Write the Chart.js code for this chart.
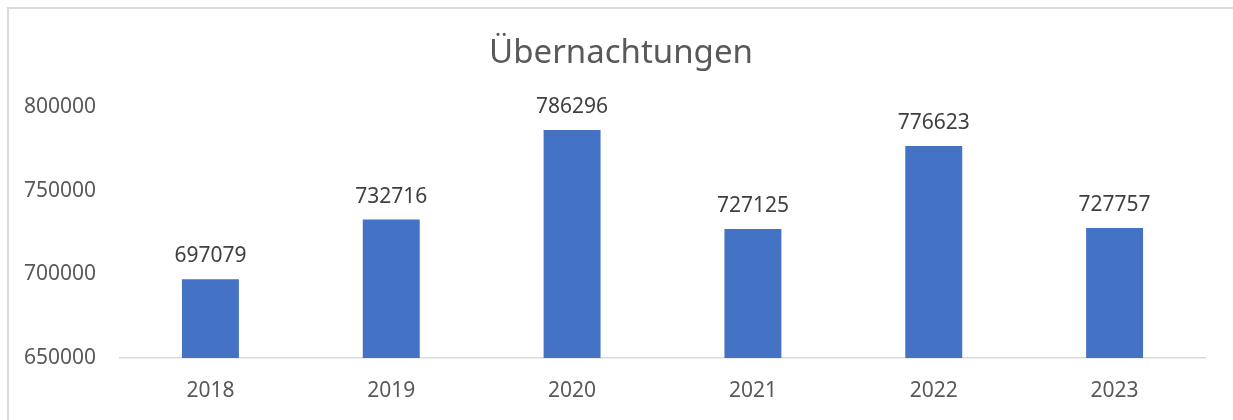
<!DOCTYPE html>
<html>
<head>
<meta charset="utf-8">
<script src="https://cdn.jsdelivr.net/npm/chart.js@4/dist/chart.umd.min.js"></script>
<style>
  html, body { margin: 0; padding: 0; background: #fff; width: 1233px; height: 420px; overflow: hidden; }
  #frame { position: absolute; left: 7px; top: 7px; width: 1300px; height: 500px; border-left: 2px solid #d9d9d9; border-top: 2px solid #d9d9d9; }
  #c { position: absolute; left: 0; top: 0; }
</style>
</head>
<body>
<div id="frame"></div>
<canvas id="c" width="1233" height="420"></canvas>
<script>
const categories = ["2018", "2019", "2020", "2021", "2022", "2023"];
const values = [697079, 732716, 786296, 727125, 776623, 727757];
const titleText = "Übernachtungen";
const yMin = 650000, yMax = 800000, yStep = 50000;

const FONT = "'Noto Sans', 'Liberation Sans', sans-serif";

const valueLabels = {
  id: 'valueLabels',
  afterDatasetsDraw(chart) {
    const ctx = chart.ctx;
    const meta = chart.getDatasetMeta(0);
    ctx.save();
    ctx.font = "21px " + FONT;
    ctx.fillStyle = "#404040";
    ctx.textAlign = "center";
    ctx.textBaseline = "alphabetic";
    meta.data.forEach((el, i) => {
      ctx.fillText(String(chart.data.datasets[0].data[i]), el.x, el.y - 17);
    });
    ctx.restore();
  }
};

const centeredTitle = {
  id: 'centeredTitle',
  afterDraw(chart) {
    const ctx = chart.ctx;
    ctx.save();
    ctx.font = "33px " + FONT;
    ctx.fillStyle = "#595959";
    ctx.textAlign = "center";
    ctx.textBaseline = "middle";
    ctx.fillText(titleText, 621, 54);
    ctx.restore();
  }
};

new Chart(document.getElementById('c'), {
  type: 'bar',
  data: {
    labels: categories,
    datasets: [{
      data: values,
      backgroundColor: '#4472C4',
      borderWidth: 0,
      categoryPercentage: 1,
      barPercentage: 0.315
    }]
  },
  options: {
    responsive: false,
    animation: false,
    devicePixelRatio: 1,
    layout: { padding: { left: 0, right: 28, top: 107, bottom: 0 } },
    plugins: {
      legend: { display: false },
      tooltip: { enabled: false },
      title: { display: false }
    },
    scales: {
      x: {
        grid: { display: false, drawTicks: false },
        border: { display: true, color: '#d9d9d9', width: 1.5 },
        ticks: { color: '#595959', font: { family: FONT, size: 21 }, padding: 20 },
        afterFit(scale) { scale.height = 62; }
      },
      y: {
        min: yMin, max: yMax,
        grid: { display: false, drawTicks: false },
        border: { display: false },
        ticks: {
          stepSize: yStep, color: '#595959', font: { family: FONT, size: 21 }, padding: 24,
          callback: (v) => String(v)
        },
        afterFit(scale) { scale.width = 120; }
      }
    }
  },
  plugins: [valueLabels, centeredTitle]
});
</script>
</body>
</html>
